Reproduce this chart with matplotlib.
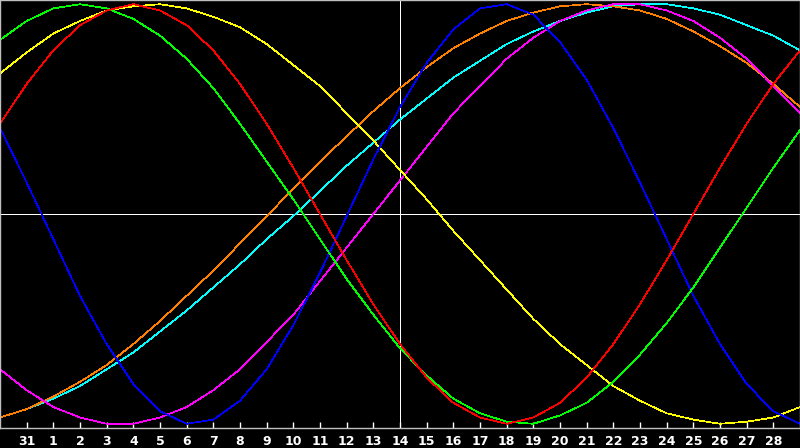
import matplotlib
matplotlib.use("Agg")
import matplotlib.pyplot as plt

# day index: 0 = the 31st of last month, 1..29 = this month
days = list(range(-1, 30))
day_labels = ["31"] + [str(d) for d in range(1, 29)]

# curve values, one per day (-1..+1)
red = [0.43, 0.62, 0.78, 0.90, 0.97, 1.00, 0.97, 0.90, 0.78, 0.62, 0.43, 0.22, 0.00,
       -0.22, -0.43, -0.62, -0.78, -0.90, -0.97, -1.00, -0.97, -0.90, -0.78, -0.62,
       -0.43, -0.22, 0.00, 0.22, 0.43, 0.62, 0.78]
green = [0.83, 0.92, 0.98, 1.00, 0.98, 0.93, 0.85, 0.74, 0.60, 0.43, 0.25, 0.07, -0.12,
         -0.31, -0.48, -0.64, -0.77, -0.88, -0.95, -0.99, -1.00, -0.96, -0.90, -0.80,
         -0.67, -0.52, -0.35, -0.16, 0.03, 0.22, 0.40]
blue = [0.41, 0.15, -0.12, -0.39, -0.62, -0.81, -0.94, -1.00, -0.98, -0.89, -0.74, -0.53,
        -0.28, -0.01, 0.26, 0.51, 0.72, 0.88, 0.98, 1.00, 0.95, 0.82, 0.64, 0.41, 0.15,
        -0.12, -0.39, -0.62, -0.81, -0.94, -1.00]
yellow = [0.67, 0.77, 0.86, 0.92, 0.97, 0.99, 1.00, 0.98, 0.94, 0.89, 0.81, 0.71, 0.61,
          0.48, 0.35, 0.21, 0.07, -0.08, -0.22, -0.36, -0.50, -0.62, -0.72, -0.82,
          -0.89, -0.95, -0.98, -1.00, -0.99, -0.97, -0.92]
magenta = [-0.74, -0.84, -0.92, -0.97, -1.00, -1.00, -0.97, -0.92, -0.84, -0.74, -0.61,
           -0.48, -0.32, -0.16, 0.00, 0.16, 0.32, 0.48, 0.61, 0.74, 0.84, 0.92, 0.97,
           1.00, 1.00, 0.97, 0.92, 0.84, 0.74, 0.61, 0.48]
orange = [-0.97, -0.93, -0.87, -0.80, -0.72, -0.62, -0.51, -0.39, -0.27, -0.14, -0.01,
          0.12, 0.25, 0.37, 0.49, 0.60, 0.70, 0.79, 0.86, 0.92, 0.96, 0.99, 1.00, 0.99,
          0.97, 0.93, 0.87, 0.80, 0.72, 0.62, 0.51]
cyan = [-0.97, -0.93, -0.88, -0.82, -0.74, -0.66, -0.56, -0.46, -0.35, -0.24, -0.12,
        -0.01, 0.11, 0.23, 0.34, 0.45, 0.55, 0.65, 0.73, 0.81, 0.87, 0.92, 0.96, 0.99,
        1.00, 1.00, 0.98, 0.95, 0.90, 0.85, 0.78]

curves = [(cyan, "#00ffff"), (orange, "#ff8000"), (magenta, "#ff00ff"),
          (yellow, "#ffff00"), (blue, "#0000ff"), (green, "#00ff00"), (red, "#ff0000")]

fig = plt.figure(figsize=(8, 4.48), dpi=100, facecolor="black")
ax = fig.add_axes([0, 20 / 448, 1, 428 / 448], facecolor="black")

# white cross through the middle
ax.axvline(14, color="white", linewidth=0.72, antialiased=False, zorder=1)
ax.axhline(0, color="white", linewidth=0.72, antialiased=False, zorder=1)

for vals, col in curves:
    ax.plot(days, vals, color=col, linewidth=0.5, antialiased=False, zorder=2)

ax.set_xlim(-1, 29)
ax.set_ylim(-1.02, 1.02)
ax.set_yticks([])
ax.set_xticks(range(0, 29))
ax.set_xticklabels(day_labels, color="white", fontsize=9, fontweight="bold")
ax.tick_params(axis="x", direction="in", length=4, width=1, color="white", pad=5)

for side in ["top", "left", "right", "bottom"]:
    ax.spines[side].set_color("#c0c0c0")
    ax.spines[side].set_linewidth(1.0)

fig.savefig("out.png", dpi=100, facecolor="black")
